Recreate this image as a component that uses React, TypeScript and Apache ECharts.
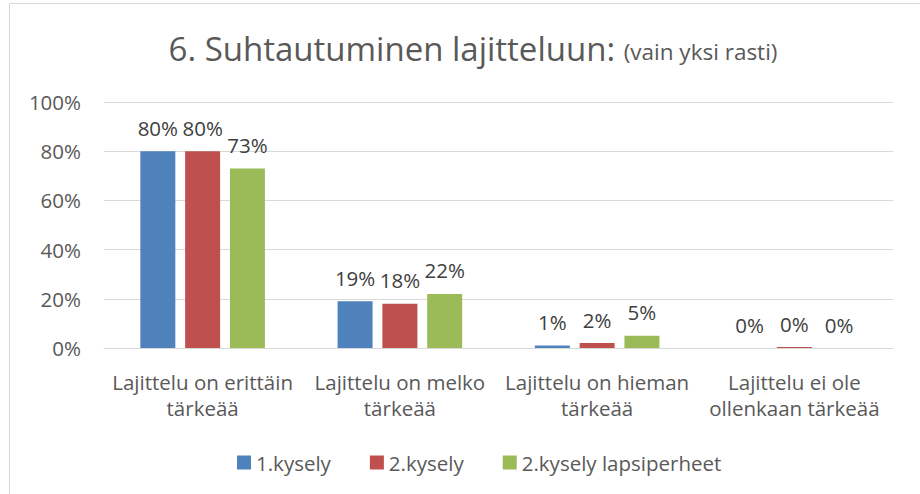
import React, { useEffect, useRef } from "react";
import * as echarts from "echarts";

const categories = [
  "Lajittelu on erittäin\ntärkeää",
  "Lajittelu on melko\ntärkeää",
  "Lajittelu on hieman\ntärkeää",
  "Lajittelu ei ole\nollenkaan tärkeää",
];
const seriesNames = ["1.kysely", "2.kysely", "2.kysely lapsiperheet"];
const kysely1 = [0.8, 0.19, 0.01, 0];
const kysely2 = [0.8, 0.18, 0.02, 0.004];
const lapsiperheet = [0.73, 0.22, 0.05, 0];
const yTicks = [0, 0.2, 0.4, 0.6, 0.8, 1.0];
const colors = ["#4F81BD", "#C0504D", "#9BBB59"];

const FONT = "Open Sans";
const FS = 20.5;

export default function App() {
  const ref = useRef<HTMLDivElement>(null);
  useEffect(() => {
    if (!ref.current) return;
    const chart = echarts.init(ref.current, null, { renderer: "svg" });
    const values = [kysely1, kysely2, lapsiperheet];
    chart.setOption({
      animation: false,
      textStyle: { fontFamily: FONT },
      title: {
        text: "{a|6. Suhtautuminen lajitteluun: }{b|(vain yksi rasti)}",
        left: 468,
        textAlign: "center",
        top: 27,
        textStyle: {
          fontWeight: "normal",
          rich: {
            a: { fontFamily: FONT, fontSize: 33, lineHeight: 33, fontWeight: "normal", color: "#595959", verticalAlign: "bottom" },
            b: { fontFamily: FONT, fontSize: 22.5, lineHeight: 22.5, fontWeight: "normal", color: "#595959", verticalAlign: "bottom", padding: [0, 0, 2, 0] },
          },
        },
      },
      graphic: [
        {
          type: "rect",
          shape: { x: 9.5, y: 3.5, width: 1000, height: 1000 },
          style: { fill: "none", stroke: "#D9D9D9", lineWidth: 1 },
          silent: true,
        },
      ],
      legend: {
        top: 447,
        left: 232,
        width: 600,
        itemWidth: 14,
        itemHeight: 14,
        itemGap: 39,
        icon: "rect",
        textStyle: { fontFamily: FONT, fontSize: FS, color: "#595959" },
        data: seriesNames,
      },
      grid: { left: 104, right: 27, top: 102, bottom: 146, containLabel: false },
      xAxis: {
        type: "category",
        data: categories,
        axisLine: { lineStyle: { color: "#D9D9D9" } },
        axisTick: { show: false },
        axisLabel: {
          fontFamily: FONT,
          fontSize: FS,
          color: "#595959",
          lineHeight: 26,
          margin: 21,
          interval: 0,
        },
      },
      yAxis: {
        type: "value",
        min: 0,
        max: yTicks[yTicks.length - 1],
        interval: 0.2,
        axisLine: { show: false },
        axisTick: { show: false },
        splitLine: { lineStyle: { color: "#D9D9D9" } },
        axisLabel: {
          fontFamily: FONT,
          fontSize: FS,
          color: "#595959",
          margin: 23,
          formatter: (v: number) => Math.round(v * 100) + "%",
        },
      },
      series: seriesNames.map((name, i) => ({
        name,
        type: "bar",
        data: values[i],
        barWidth: 35,
        barGap: "28%",
        itemStyle: { color: colors[i] },
        label: {
          show: true,
          position: "top",
          distance: 13,
          fontFamily: FONT,
          fontSize: FS,
          color: "#404040",
          formatter: (p: any) => Math.round(p.value * 100) + "%",
        },
      })),
    });
    return () => chart.dispose();
  }, []);
  return (
    <div
      ref={ref}
      style={{ position: "absolute", left: 0, top: 0, width: 920, height: 494, background: "#fff" }}
    />
  );
}
